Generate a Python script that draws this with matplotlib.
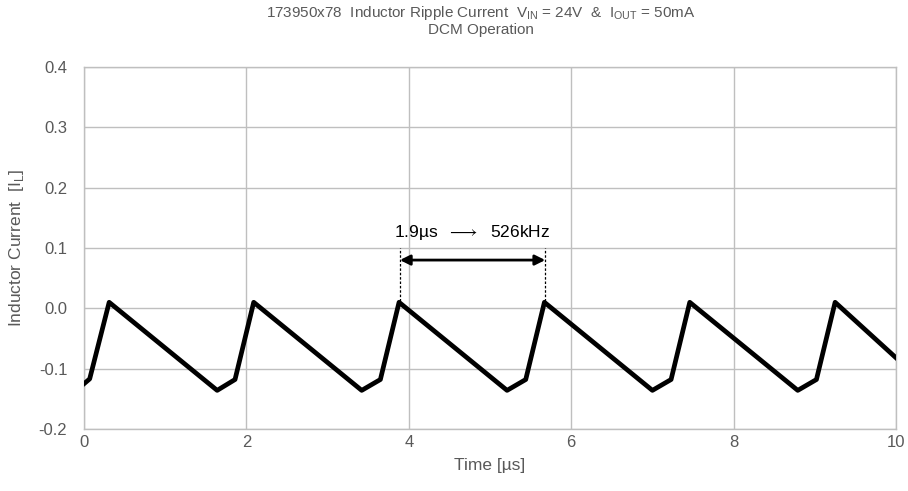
import numpy as np
import matplotlib
matplotlib.use('Agg')
import matplotlib.pyplot as plt

plt.rcParams['font.family'] = ['Liberation Sans', 'DejaVu Sans']
plt.rcParams['axes.unicode_minus'] = False
plt.rcParams['mathtext.fontset'] = 'custom'
plt.rcParams['mathtext.rm'] = 'Liberation Sans'

# waveform vertices (time in us, current in A)
t = [0.00, 0.07, 0.31, 1.64, 1.86, 2.09, 3.42, 3.65, 3.88, 5.21, 5.44, 5.67,
     7.00, 7.23, 7.46, 8.79, 9.02, 9.25, 10.00]
i_l = [-0.125, -0.117, 0.010, -0.136, -0.118, 0.010, -0.136, -0.118, 0.010,
       -0.136, -0.118, 0.010, -0.136, -0.118, 0.010, -0.136, -0.118, 0.010, -0.082]

# period marker
t_start = 3.89
t_end = 5.68
marker_text = '1.9µs  $\\longrightarrow$  526kHz'

xticks = [0, 2, 4, 6, 8, 10]
yticks = [-0.2, -0.1, 0.0, 0.1, 0.2, 0.3, 0.4]

gray = '#595959'
grid = '#bfbfbf'

fig = plt.figure(figsize=(9.08, 4.91), dpi=100)
ax = fig.add_axes([0.0925, 0.1263, 0.8943, 0.7372])

ax.plot(t, i_l, color='black', linewidth=3.4, solid_joinstyle='round', zorder=3)

ax.set_xlim(0, 10)
ax.set_ylim(-0.2, 0.4)
ax.set_xticks(xticks)
ax.set_yticks(yticks)
ax.set_yticklabels(['%.1f' % v for v in yticks])
ax.grid(True, color=grid, linewidth=1)
ax.tick_params(length=0, labelsize=12, colors=gray)
ax.tick_params(axis='x', pad=4)
ax.tick_params(axis='y', pad=12)
for s in ax.spines.values():
    s.set_color(grid)
    s.set_linewidth(1)

ax.set_xlabel('Time [µs]', fontsize=12.5, color=gray)
ax.xaxis.set_label_coords(0.5, -0.08)
ax.set_ylabel('Inductor Current  [I$_\\mathregular{L}$]', fontsize=12.5, color=gray)
ax.yaxis.set_label_coords(-0.072, 0.5)

fig.text(481 / 908, 1 - 4 / 491,
         '173950x78  Inductor Ripple Current  V$_\\mathregular{IN}$ = 24V  &  I$_\\mathregular{OUT}$ = 50mA\nDCM Operation',
         ha='center', va='top', fontsize=11, color=gray, linespacing=1.05, multialignment='center')

# period annotation
for x in (t_start, t_end):
    ax.plot([x, x], [0.012, 0.1], color='black', linestyle=(0, (2, 1.5)), linewidth=0.9, zorder=4)
ax.annotate('', xy=(t_end, 0.08), xytext=(t_start, 0.08),
            arrowprops=dict(arrowstyle='<|-|>', color='black', lw=2, mutation_scale=15, shrinkA=0, shrinkB=0))
ax.text((t_start + t_end) / 2, 0.125, marker_text, ha='center', va='center', fontsize=12.5, color='black')

plt.savefig('out.png', dpi=100)
